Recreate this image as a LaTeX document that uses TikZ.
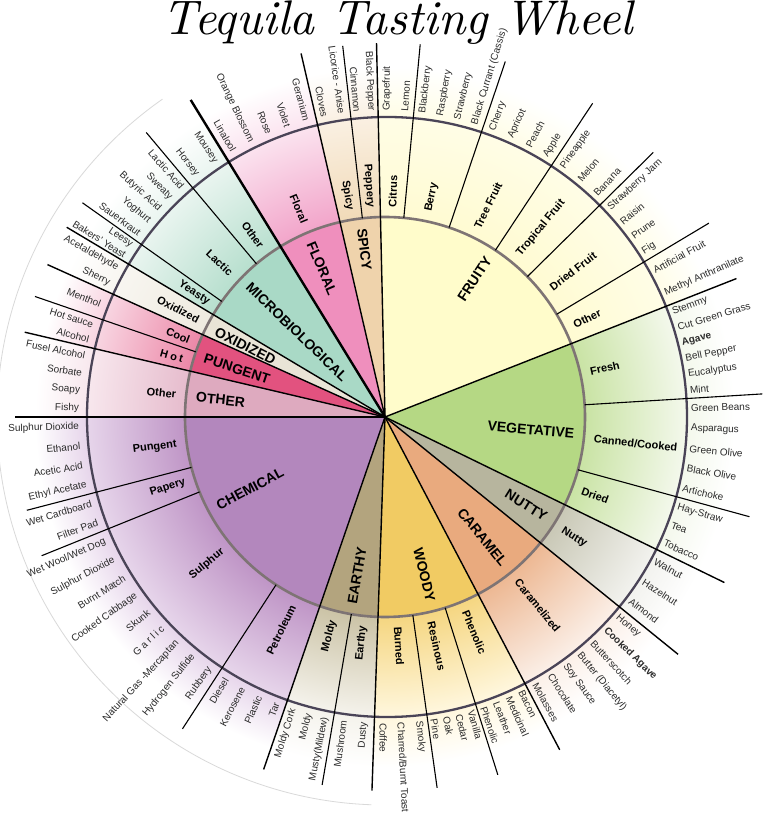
\documentclass[tikz,border=0pt]{standalone}
\usepackage{fontspec}
\usepackage{graphicx}
\newfontfamily\labf{Liberation Sans}
\definecolor{cA}{HTML}{FFFFFF}
\definecolor{cB}{HTML}{FFFFFF}
\definecolor{cC}{HTML}{FFFFFF}
\definecolor{innerring}{HTML}{7E7474}
\definecolor{outerring}{HTML}{4A4457}
\definecolor{itemc}{HTML}{2A2A2A}
\pgfdeclareradialshading[cA,cB,cC]{wheelshade}{\pgfpoint{0bp}{0bp}}{%
 color(0bp)=(cA); color(13.88bp)=(cA); color(13.9bp)=(cB); color(20.83bp)=(cC);
 color(24.3bp)=(white); color(25bp)=(white); color(50bp)=(white)}
\newcommand\wsector[5]{%
 \begin{scope}
  \clip (0,0) -- (#1:420pt) arc[start angle=#1, end angle=#2, radius=420pt] -- cycle;
  \definecolor{cA}{HTML}{#3}\definecolor{cB}{HTML}{#4}\definecolor{cC}{HTML}{#5}%
  \shade[shading=wheelshade] (0,0) circle[radius=360pt];
 \end{scope}}
\newif\ifrightside
\newcommand\setside[1]{\rightsidefalse\ifdim #1pt>-92pt \ifdim #1pt<91pt \rightsidetrue\fi\fi}
\newcommand\inlab[4]{\setside{#1}%
 \ifrightside \node[#3,anchor=west,rotate=#1] at (#1:#2pt) {#4};%
 \else \node[#3,anchor=east,rotate=#1+180] at (#1:#2pt) {#4};\fi}
\newcommand\outlab[4]{\setside{#1}%
 \ifrightside \node[#3,anchor=east,rotate=#1] at (#1:#2pt) {#4};%
 \else \node[#3,anchor=west,rotate=#1+180] at (#1:#2pt) {#4};\fi}
\newcommand\bline[3]{\pgfmathsetmacro\rend{374+4*cos(#1)}\draw[#3] (#1:#2pt) -- (#1:\rend pt);}
\tikzset{
 itemlab/.style={font=\labf\fontsize{10}{12}\selectfont, text=itemc, inner sep=1pt},
 sublab/.style={font=\labf\bfseries\fontsize{11}{13}\selectfont, text=black, inner sep=1pt},
 catlab/.style={font=\labf\bfseries\fontsize{14}{16}\selectfont, text=black, inner sep=1pt},
 catline/.style={black, line width=1.4pt},
 subline/.style={black, line width=1.1pt},
 heavyline/.style={black, line width=2.4pt}
}
\begin{document}
\begin{tikzpicture}[x=1pt,y=1pt]
\useasboundingbox (-385,-404) rectangle (386,417);
\fill[white] (-385,-404) rectangle (386,417);
% sectors
\wsector{91.3}{21.5}{FFFCCB}{FFFBD2}{FFFDE6}
\wsector{21.5}{-26}{B5D884}{C9E3A4}{F3F8EB}
\wsector{-26}{-39}{B7B59E}{C9C8B6}{F2F2EE}
\wsector{-39}{-62.3}{E9AA7E}{EDB893}{FBEFE7}
\wsector{-62.3}{-92}{F1CB63}{F5D681}{FFF7DE}
\wsector{-92}{-109}{B3A47E}{CBC3A6}{F5F3EC}
\wsector{-109}{-180}{B387BD}{BF95C6}{E7D6EB}
\wsector{180}{166.75}{DEAABF}{E6BCCD}{F8E8EE}
\wsector{166.75}{155.7}{E2527F}{EC87A7}{F8D6E2}
\wsector{155.7}{149.2}{E9E4D6}{EEEADF}{F8F6F1}
\wsector{149.2}{121.5}{A9D9C6}{B7DFCE}{EAF5F0}
\wsector{121.5}{103}{EF8FBD}{F2A5CA}{FBE3EF}
\wsector{103}{91.3}{EFD3AC}{F1DAB8}{FAF0E2}
% faint outer arc
\draw[black!15, line width=0.8pt] (125:388pt) arc[start angle=125, end angle=268, radius=388pt];
% rings
\draw[innerring, line width=2.6pt] (0,0) circle[radius=200pt];
\draw[outerring, line width=2.3pt] (2,0) circle[radius=300pt];
% category boundaries
\foreach \a in {91.3,21.5,-26,-39,-62.3,-92,-109,180,166.75,155.7,149.2,103}{\bline{\a}{0}{catline}}
\bline{121.5}{0}{heavyline}
% subcategory boundaries
\foreach \a in {84.6,71.3,56.5,44.6,30.9,3.5,-15.3,-72.5,-82,-99.7,-123,-158,-165.4,161,144.7,130,96.5}{\bline{\a}{200}{subline}}
% category labels
\foreach \a/\t in {57/FRUITY,-5/VEGETATIVE,-32/NUTTY,-51/CARAMEL,-76/WOODY,-100/EARTHY,-152/CHEMICAL,174/OTHER,162/PUNGENT,153/OXIDIZED,136/MICROBIOLOGICAL,113/FLORAL,97/SPICY}{\outlab{\a}{191}{catlab}{\t}}
% subcategory labels
\foreach \a/\t in {88/Citrus,78/Berry,64/{Tree Fruit},50.5/{Tropical Fruit},37.8/{Dried Fruit},26/Other,12.5/Fresh,-6/{Canned/Cooked},-20.5/Dried,-32.5/Nutty,-51/Caramelized,-67.5/Phenolic,-77.3/Resinous,-86.5/Burned,-96/Earthy,-104.3/Moldy,-116/Petroleum,-140.5/Sulphur,-162/Papery,-172.5/Pungent,173.8/Other,158.5/Cool,152.5/Oxidized,147/Yeasty,137/Lactic,126/Other,112.5/Floral,99.6/Spicy,94/Peppery}{\inlab{\a}{209}{sublab}{\t}}
\inlab{164}{209}{sublab}{H\hspace{2.5pt}o\hspace{2.5pt}t}
% item labels
\foreach \a/\t in {89.63/Grapefruit,86.28/Lemon,82.94/Blackberry,79.61/Raspberry,76.29/Strawberry,72.96/{Black Currant (Cassis)},69.45/Cherry,65.75/Apricot,62.05/Peach,58.35/Apple,54.52/Pineapple,50.55/Melon,46.58/Banana,42.89/{Strawberry Jam},39.46/Raisin,36.04/Prune,32.61/Fig,28.55/{Artificial Fruit},23.85/{Methyl Anthranilate},20/Stemmy,17/{Cut Green Grass},11/{Bell Pepper},8/Eucalyptus,5/Mint,1.62/{Green Beans},-2.14/Asparagus,-5.9/{Green Olive},-9.66/{Black Olive},-13.42/Artichoke,-17.08/{Hay-Straw},-20.65/Tea,-24.22/Tobacco,-28.17/Walnut,-32.5/Hazelnut,-36.83/Almond,-40.66/Honey,-47.32/Butterscotch,-50.65/{Butter (Diacetyl)},-53.98/{Soy Sauce},-57.31/Chocolate,-60.64/Molasses,-63.58/Bacon,-66.13/Medicinal,-68.68/Leather,-71.23/Phenolic,-73.69/Vanilla,-76.06/Cedar,-78.44/Oak,-80.81/Pine,-83.67/Smoky,-87/{Charred/Burnt Toast},-90.33/Coffee}{\inlab{\a}{305}{itemlab}{\t}}
\foreach \a/\t in {-93.93/Dusty,-97.78/Mushroom,-101.25/{Musty(Mildew)},-104.35/Moldy,-107.45/{Moldy Cork},-110.75/Tar,-114.25/Plastic,-117.75/Kerosene,-121.25/Diesel,-124.94/Rubbery,-128.83/{Hydrogen Sulfide},-132.72/{Natural Gas -Mercaptan},-140.5/Skunk,-144.39/{Cooked Cabbage},-148.28/{Burnt Match},-152.17/{Sulphur Dioxide},-156.06/{Wet Wool/Wet Dog},-159.85/{Filter Pad},-163.55/{Wet Cardboard},-167.23/{Ethyl Acetate},-170.88/{Acetic Acid},-174.53/Ethanol,-178.18/{Sulphur Dioxide},178.34/Fishy,175.03/Soapy,171.72/Sorbate,168.41/{Fusel Alcohol},165.31/Alcohol,162.44/{Hot sauce},158.35/Menthol,154.08/Sherry,150.83/Acetaldehyde,148.08/{Bakers' Yeast},145.83/Leesy,143.23/Sauerkraut,140.29/Yoghurt,137.35/{Butyric Acid},134.41/Sweaty,131.47/{Lactic Acid},127.88/Horsey,123.63/Mousey,119.65/Linalool,115.95/{Orange Blossom},112.25/Rose,108.55/Violet,104.85/Geranium,101.38/Cloves,98.13/{Licorice - Anise},95.2/Cinnamon,92.6/{Black Pepper}}{\inlab{\a}{305}{itemlab}{\t}}
\inlab{14}{305}{itemlab}{\bfseries Agave}
\inlab{-43.99}{305}{itemlab}{\bfseries Cooked Agave}
\inlab{-136.61}{305}{itemlab}{G\hspace{2.5pt}a\hspace{2.5pt}r\hspace{2.5pt}l\hspace{2.5pt}i\hspace{2.5pt}c}
% title
\node[anchor=base, inner sep=0pt] (title) at (13,382) {\resizebox{470pt}{!}{\rmfamily\itshape Tequila\hspace{0.35em}Tasting\hspace{0.35em}Wheel}};
\end{tikzpicture}
\end{document}
